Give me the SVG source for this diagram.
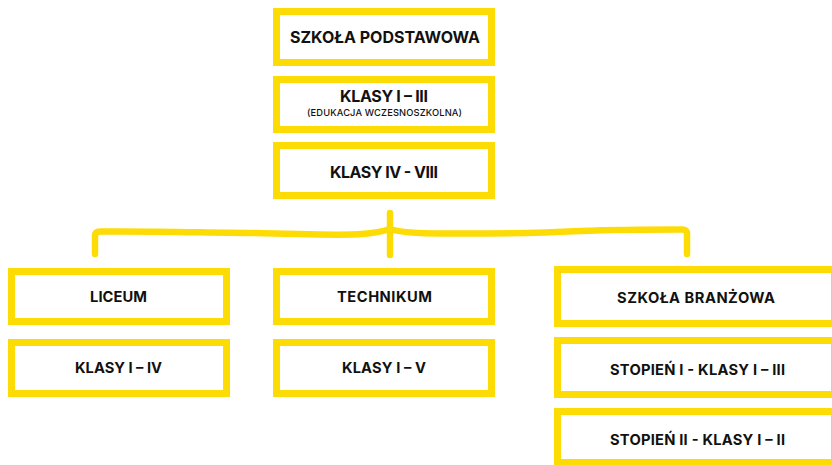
<svg xmlns="http://www.w3.org/2000/svg" width="832" height="465" viewBox="0 0 832 465">
<style>
.box{fill:#fff;stroke:#FDDC06;stroke-width:7}
.t{font-family:Inter,Lato,"DejaVu Sans",sans-serif;font-weight:700;fill:#111;text-anchor:middle}
.big{font-size:16px}
.mid{font-size:14.7px}
.small{font-size:9.3px;font-weight:500}
.con{fill:none;stroke:#FDDC06;stroke-width:6.5;stroke-linecap:round;stroke-linejoin:round}
</style>
<rect width="832" height="465" fill="#fff"/>
<g id="connectors">
<path class="con" d="M95,254 L95,236 Q95,231.5 100,231.5 C150,231 200,232.5 250,233 C300,233.5 335,236 362,234 C376,233 384,231 390,229 C396,231 412,233.5 442,233.5 C500,234 540,233 580,231 C620,229.5 660,229.5 682,229.5 Q687,229.5 687,234 L687,254"/>
<path class="con" d="M390,213 L390,255"/>
</g>
<g id="szkola-podstawowa">
<rect class="box" x="276.5" y="11.5" width="215" height="51"/>
<text class="t big" x="385" y="43" textLength="190" lengthAdjust="spacing">SZKOŁA PODSTAWOWA</text>
</g>
<g id="klasy-1-3">
<rect class="box" x="276.5" y="79.5" width="215" height="50"/>
<text class="t big" x="384" y="102" textLength="88" lengthAdjust="spacing">KLASY I – III</text>
<text class="t small" x="384.5" y="116" textLength="155" lengthAdjust="spacing">(EDUKACJA WCZESNOSZKOLNA)</text>
</g>
<g id="klasy-4-8">
<rect class="box" x="276.5" y="145.5" width="215" height="50"/>
<text class="t big" x="384" y="178" textLength="108" lengthAdjust="spacing">KLASY IV - VIII</text>
</g>
<g id="liceum">
<rect class="box" x="11.5" y="271.5" width="215" height="50"/>
<text class="t mid" x="118.5" y="302" textLength="57" lengthAdjust="spacing">LICEUM</text>
</g>
<g id="liceum-klasy">
<rect class="box" x="11.5" y="342.5" width="215" height="51"/>
<text class="t mid" x="118.5" y="373" textLength="87" lengthAdjust="spacing">KLASY I – IV</text>
</g>
<g id="technikum">
<rect class="box" x="276.5" y="271.5" width="215" height="50"/>
<text class="t mid" x="384.5" y="302" textLength="95" lengthAdjust="spacing">TECHNIKUM</text>
</g>
<g id="technikum-klasy">
<rect class="box" x="276.5" y="342.5" width="215" height="51"/>
<text class="t mid" x="384" y="373" textLength="84" lengthAdjust="spacing">KLASY I – V</text>
</g>
<g id="szkola-branzowa">
<rect class="box" x="557.5" y="269.5" width="277" height="54"/>
<text class="t mid" x="696" y="303" textLength="158" lengthAdjust="spacing">SZKOŁA BRANŻOWA</text>
</g>
<g id="stopien-1">
<rect class="box" x="557.5" y="340.5" width="277" height="54"/>
<text class="t mid" x="697.5" y="375" textLength="175" lengthAdjust="spacing">STOPIEŃ I - KLASY I – III</text>
</g>
<g id="stopien-2">
<rect class="box" x="557.5" y="411.5" width="277" height="51"/>
<text class="t mid" x="697.5" y="445" textLength="175" lengthAdjust="spacing">STOPIEŃ II - KLASY I – II</text>
</g>
</svg>
